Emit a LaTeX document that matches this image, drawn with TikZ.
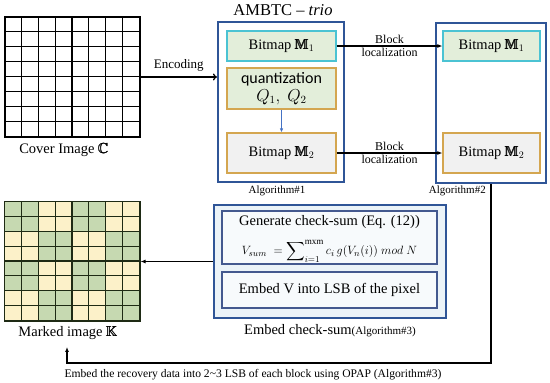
\documentclass[tikz,border=0pt]{standalone}
\usepackage{amsmath,amssymb}
\usepackage{fontspec}
\setmainfont{Liberation Serif}
\newfontfamily\qfont{Carlito}
\usepackage{tikz}
\usepackage{xcolor}
\usetikzlibrary{arrows.meta,positioning}
\definecolor{AlgBlue}{HTML}{2F5597}
\definecolor{BoxBlue}{HTML}{44598F}
\definecolor{BitCyan}{HTML}{4BC3D3}
\definecolor{BitGold}{HTML}{D4A650}
\definecolor{BitGreen}{HTML}{E3EEDA}
\definecolor{BitGray}{HTML}{F1F1F1}
\definecolor{ArrBlue}{HTML}{4472C4}
\definecolor{SumFill}{HTML}{EBF3F8}
\definecolor{SumInner}{HTML}{F7FAFC}
\definecolor{CellGreen}{HTML}{C6D9B1}
\definecolor{CellYellow}{HTML}{FCF1C9}
\definecolor{GridLine}{HTML}{1E2A14}

\newcommand{\bbM}{\pmb{\mathbb{M}}}

\tikzset{
    algbox/.style={draw=AlgBlue, line width=2pt, fill=white, inner sep=0pt},
    bitbox/.style={draw=#1, line width=1.2pt, inner sep=0pt, align=center, font=\fontsize{14.5}{16}\selectfont},
    sumbox/.style={draw=BoxBlue, line width=1.4pt, fill=SumInner, inner sep=0pt, align=center, font=\fontsize{14.5}{17}\selectfont},
    imgbox/.style={draw, line width=1.1pt, inner sep=0pt, minimum width=135pt},
    caption/.style={font=\fontsize{14.5}{16}\selectfont, inner sep=1pt},
    small/.style={font=\fontsize{11}{12}\selectfont, inner sep=1pt},
    loclbl/.style={font=\fontsize{12}{13}\selectfont, inner sep=1.5pt},
    link/.style={line width=1.3pt, -{Latex[length=5pt,width=4pt]}},
}

\begin{document}
\begin{tikzpicture}[x=1pt, y=-1pt]
    \useasboundingbox (0,0) rectangle (550,383);

    % Cover image (plain 8x8 grid)
    \node[imgbox, minimum height=120pt] (cover) at (72.5,77) {};
    \foreach \i in {1,...,7} {
        \draw[line width=1.1pt, shift={(cover.north west)}] (\i*16.875,0) -- ++(0,120);
        \draw[line width=1.1pt, shift={(cover.north west)}] (0,\i*15) -- ++(135,0);
    }
    \node[caption] (coverlbl) at (64,150) {Cover Image $\pmb{\mathbb{C}}$};

    % Marked image (coloured 8x8 grid)
    \node[imgbox, draw=GridLine, minimum height=119pt] (marked) at (72.5,261.5) {};
    \foreach \i in {0,...,7} {
        \foreach \j in {0,...,7} {
            \pgfmathtruncatemacro\cellval{mod(floor(\i/2)+floor(\j/2),2)}
            \ifnum\cellval=0 \def\cellcol{CellGreen}\else\def\cellcol{CellYellow}\fi
            \fill[\cellcol, shift={(marked.north west)}] (\i*16.875,\j*14.875) rectangle ++(16.875,14.875);
        }
    }
    \foreach \i in {0,...,8} {
        \draw[GridLine, line width=1.1pt, shift={(marked.north west)}] (\i*16.875,0) -- ++(0,119);
        \draw[GridLine, line width=1.1pt, shift={(marked.north west)}] (0,\i*14.875) -- ++(135,0);
    }
    \node[caption] (markedlbl) at (68,333) {Marked image $\pmb{\mathbb{K}}$};

    % AMBTC - trio (Algorithm#1)
    \node[font=\fontsize{16.5}{18}\selectfont] (title) at (283,10) {AMBTC -- \textit{trio}};
    \node[algbox, minimum width=126pt, minimum height=160pt] (alg1) at (281,102) {};
    \node[bitbox=BitCyan, fill=BitGreen, minimum width=109pt, minimum height=30pt] (a1m1) at (281.5,46) {Bitmap $\bbM_1$};
    \node[bitbox=BitGold, fill=BitGreen, minimum width=109pt, minimum height=41pt, font=\fontsize{16}{17}\selectfont] (quant) at (281.5,88.5) {\qfont quantization\\[1pt] $Q_1,\ Q_2$};
    \node[bitbox=BitGold, fill=BitGray, minimum width=109pt, minimum height=40pt] (a1m2) at (281.5,153) {Bitmap $\bbM_2$};
    \node[small] (alg1lbl) at (277,191) {Algorithm\#1};
    \draw[ArrBlue, line width=0.8pt, -{Latex[length=4pt,width=3.5pt]}] (quant) -- (a1m2);

    % Algorithm#2
    \node[algbox, minimum width=110pt, minimum height=160pt] (alg2) at (491,103) {};
    \node[bitbox=BitCyan, fill=BitGreen, minimum width=97pt, minimum height=30pt] (a2m1) at (491.5,46) {Bitmap $\bbM_1$};
    \node[bitbox=BitGold, fill=BitGray, minimum width=97pt, minimum height=40pt] (a2m2) at (491.5,153) {Bitmap $\bbM_2$};
    \node[small, anchor=east] (alg2lbl) at (487,191) {Algorithm\#2};

    % Check-sum (Algorithm#3)
    \node[draw=AlgBlue, line width=2.5pt, fill=SumFill, minimum width=232pt, minimum height=113pt] (alg3) at (330,261.5) {};
    \node[sumbox, minimum width=215pt, minimum height=53pt] (gen) at (329.5,237.5) {};
    \node[anchor=north, inner sep=0pt, font=\fontsize{14.5}{16}\selectfont] (genhead) at ([yshift=-5pt]gen.north) {Generate check-sum (Eq. (12))};
    \node[anchor=south, inner sep=0pt, font=\fontsize{13}{14}\selectfont] (genformula) at ([yshift=2pt]gen.south)
        {$V_{sum}\ = \displaystyle\sum\nolimits_{i=1}^{\mathrm{mxm}} c_i\, g(V_n(i))\ mod\ N$};
    \node[sumbox, minimum width=215pt, minimum height=36pt] (emb) at (329.5,290) {Embed V into LSB of the pixel};
    \node[caption] (alg3lbl) at (330,331) {Embed check-sum{\fontsize{11}{12}\selectfont(Algorithm\#3)}};

    % Connectors
    \draw[line width=1.3pt, -{To[length=4pt,width=7pt]}] (cover.east) -- (cover.east -| alg1.west)
        node[midway, above=2pt, font=\fontsize{13}{14}\selectfont] {Encoding};
    \draw[link] (a1m1) -- (a2m1)
        node[midway, anchor=south, loclbl] {Block}
        node[midway, anchor=north, loclbl] {localization};
    \draw[link] (a1m2) -- (a2m2)
        node[midway, anchor=south, loclbl] {Block}
        node[midway, anchor=north, loclbl] {localization};
    \draw[link] (alg3) -- (marked);

    % Recovery data loop
    \coordinate (loopL) at (67,363);
    \draw[link] (alg2.south) |- (loopL) -- ([yshift=-6pt]markedlbl.south -| loopL);
    \node[small, font=\fontsize{11.6}{13}\selectfont] (recov) at (253,375) {Embed the recovery data into 2\textasciitilde3 LSB of each block using OPAP (Algorithm\#3)};

\end{tikzpicture}
\end{document}
